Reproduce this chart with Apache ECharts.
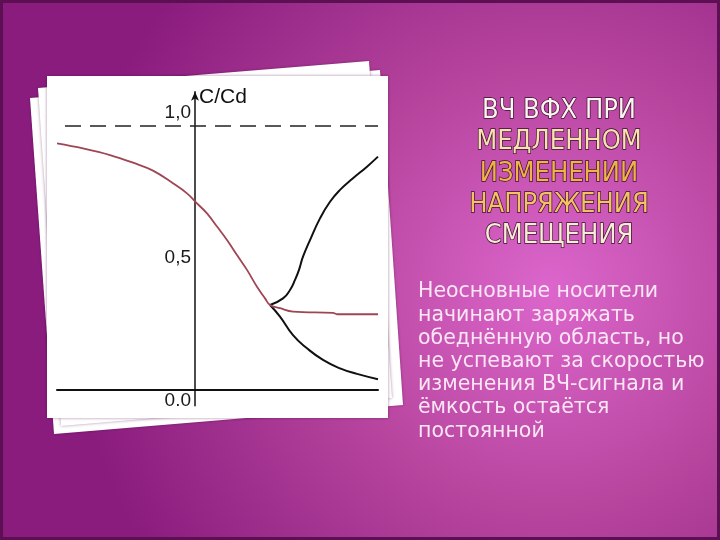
<!DOCTYPE html>
<html><head><meta charset="utf-8">
<script src="https://cdn.jsdelivr.net/npm/echarts@6/dist/echarts.min.js"></script>
<style>html,body{margin:0;padding:0;background:#8a1c7c}#c{width:720px;height:540px}</style>
</head><body><div id="c"></div>
<script>
// C/Cd curves (x = bias voltage, arbitrary units; y = C/Cd)
const redX   = [-1.38,-1.12,-0.85,-0.62,-0.42,-0.22,-0.08,0.02,0.12,0.22,0.32,0.42,0.52,0.62,0.70,0.75,0.85,0.98,1.38,1.42,1.83];
const redY   = [0.934,0.915,0.890,0.861,0.831,0.783,0.745,0.707,0.669,0.619,0.568,0.511,0.455,0.391,0.347,0.322,0.310,0.297,0.292,0.287,0.287];
const upperX = [0.75,0.88,0.95,1.00,1.04,1.08,1.15,1.25,1.35,1.45,1.58,1.72,1.83];
const upperY = [0.322,0.347,0.379,0.417,0.455,0.505,0.568,0.650,0.713,0.758,0.802,0.846,0.884];
const lowerX = [0.75,0.85,0.98,1.12,1.28,1.45,1.62,1.83];
const lowerY = [0.322,0.278,0.208,0.158,0.114,0.082,0.061,0.041];
const dashLevel = 1.0;
const tickValues = [0, 0.5, 1];
const tickLabels = ['0.0', '0,5', '1,0'];
const axisName = 'C/Cd';
const titleLines = ['ВЧ ВФХ ПРИ', 'МЕДЛЕННОМ', 'ИЗМЕНЕНИИ', 'НАПРЯЖЕНИЯ', 'СМЕЩЕНИЯ'];
const titleColors = ['#fbf6ee', '#f6e2ae', '#f0b446', '#f3c263', '#f7ecd4'];
const bodyLines = ['Неосновные носители', 'начинают заряжать', 'обеднённую область, но', 'не успевают за скоростью', 'изменения ВЧ-сигнала и', 'ёмкость остаётся', 'постоянной'];

const zip = (xs, ys) => xs.map((x, i) => [x, ys[i]]);

const graphics = [
  {type: 'rect', z: -100, shape: {x: 0, y: 0, width: 720, height: 540},
   style: {fill: {type: 'radial', x: 550, y: 290, r: 480, global: true,
     colorStops: [{offset: 0, color: '#dc66cc'}, {offset: 0.45, color: '#b8469f'}, {offset: 1, color: '#8a1c7e'}]}}},
  {type: 'rect', z: -99, shape: {x: 1.5, y: 1.5, width: 717, height: 537},
   style: {fill: null, stroke: '#5c0f52', lineWidth: 3}},
  {type: 'polygon', z: -60, shape: {points: [[30,98],[380,70],[403,405],[54,434]]},
   style: {fill: '#ffffff', shadowBlur: 3, shadowColor: 'rgba(60,0,50,0.45)'}},
  {type: 'polygon', z: -55, shape: {points: [[38,88],[369,61],[392,398],[61,426]]},
   style: {fill: '#ffffff', shadowBlur: 3, shadowColor: 'rgba(60,0,50,0.45)'}},
  {type: 'rect', z: -50, shape: {x: 47, y: 76, width: 341, height: 342},
   style: {fill: '#ffffff', shadowBlur: 3, shadowColor: 'rgba(60,0,50,0.45)'}},
  {type: 'text', z: 100, x: 418, y: 280.5,
   style: {text: bodyLines.join('\n'), font: '20.5px "DejaVu Sans"', lineHeight: 23.2,
     align: 'left', verticalAlign: 'top', fill: '#fbe6f5'}}
];
titleLines.forEach((t, i) => {
  graphics.push({type: 'text', z: 100, x: 559, y: 111 + i * 31.25,
    style: {text: t, font: '27px "DejaVu Sans Condensed"', align: 'center', verticalAlign: 'middle',
      fill: titleColors[i], stroke: '#3a0a30', lineWidth: 1.4}});
});

const chart = echarts.init(document.getElementById('c'), null, {renderer: 'canvas'});
chart.setOption({
  animation: false,
  graphic: graphics,
  grid: {left: 57, width: 321, top: 91.68, height: 314.16, containLabel: false},
  xAxis: {type: 'value', min: -1.38, max: 1.83,
    axisLine: {show: true, onZero: true, lineStyle: {color: '#111', width: 2}},
    axisTick: {show: false}, axisLabel: {show: false}, splitLine: {show: false}},
  yAxis: {type: 'value', min: -0.06, max: 1.13, position: 'left', offset: -138,
    name: axisName, nameLocation: 'end', nameGap: -6,
    nameTextStyle: {fontFamily: 'Liberation Sans', fontSize: 21, color: '#111', align: 'left', verticalAlign: 'middle', padding: [0, 0, 0, 4]},
    axisLine: {show: true, onZero: false, symbol: ['none', 'arrow'], symbolSize: [6, 9], lineStyle: {color: '#111', width: 1.5}},
    axisTick: {show: false}, splitLine: {show: false},
    axisLabel: {show: true, customValues: tickValues, margin: 4,
      formatter: v => {
        const i = tickValues.indexOf(Math.round(v * 100) / 100);
        const t = i >= 0 ? tickLabels[i] : '';
        if (v > 0.9) return '{u|' + t + '}';
        if (v < 0.1) return '{d|' + t + '}';
        return '{m|' + t + '}';
      },
      rich: {
        u: {fontFamily: 'Liberation Sans', fontSize: 19, color: '#1a1a1a', padding: [0, 0, 26, 0]},
        m: {fontFamily: 'Liberation Sans', fontSize: 19, color: '#1a1a1a'},
        d: {fontFamily: 'Liberation Sans', fontSize: 19, color: '#1a1a1a', padding: [22, 0, 0, 0]}
      }}},
  series: [
    {type: 'line', data: zip(upperX, upperY), showSymbol: false, smooth: 0.5, z: 3,
     lineStyle: {color: '#111', width: 2}},
    {type: 'line', data: zip(lowerX, lowerY), showSymbol: false, smooth: 0.5, z: 3,
     lineStyle: {color: '#111', width: 2}},
    {type: 'line', data: zip(redX, redY), showSymbol: false, smooth: 0.4, z: 4,
     lineStyle: {color: '#9e4654', width: 1.8},
     markLine: {silent: true, symbol: ['none', 'none'], label: {show: false},
       lineStyle: {type: [16, 9], dashOffset: -8, color: '#222', width: 1.6},
       data: [{yAxis: dashLevel}]}}
  ]
});
</script></body></html>
